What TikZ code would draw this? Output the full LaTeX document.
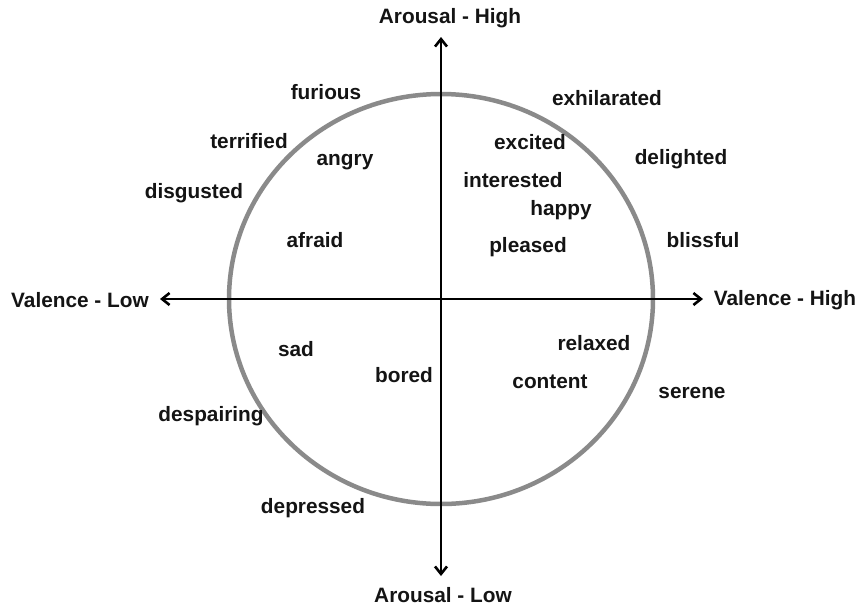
\documentclass[tikz,border=0pt]{standalone}
\usepackage{fontspec}
\setmainfont{Liberation Sans}
\usepackage{xcolor}
\usetikzlibrary{arrows.meta}
\definecolor{ringgray}{HTML}{8A8A8A}

\begin{document}
\begin{tikzpicture}[x=1pt,y=-1pt,
  mood/.style={font=\fontsize{20.8}{24}\selectfont\bfseries, text=black!92, inner sep=0pt},
  axlabel/.style={mood},
  axe/.style={{Straight Barb[length=7.5pt,width=12pt,line width=2.6pt]}-{Straight Barb[length=7.5pt,width=12pt,line width=2.6pt]}, line width=2.8pt, black},
  ring/.style={draw=ringgray, line width=4.5pt}]
  \useasboundingbox (0,0) rectangle (857,606);
  % circle
  \draw[ring] (441,299) ellipse [x radius=212, y radius=205];
  % axis ends
  \coordinate (vlo) at (160,299);
  \coordinate (vhi) at (703,299);
  \coordinate (ahi) at (441,37);
  \coordinate (alo) at (441,576);
  \draw[axe] (vlo) -- (vhi);
  \draw[axe] (ahi) -- (alo);
  % axis labels
  \node[axlabel] (arhigh) at (450,18)  {Arousal - High};
  \node[axlabel] (arlow)  at (443,595) {Arousal - Low};
  \node[axlabel] (valow)  at (80,300)  {Valence - Low};
  \node[axlabel] (vahigh) at (785,300) {Valence - High};
  % emotions
  \node[mood] (furious)     at (326,92)  {furious};
  \node[mood] (exhilarated) at (607,98)  {exhilarated};
  \node[mood] (terrified)   at (249,141) {terrified};
  \node[mood] (angry)       at (345,162) {angry};
  \node[mood] (excited)     at (530,142) {excited};
  \node[mood] (delighted)   at (681,159) {delighted};
  \node[mood] (disgusted)   at (194,193) {disgusted};
  \node[mood] (interested)  at (513,180) {interested};
  \node[mood] (happy)       at (561,210) {happy};
  \node[mood] (afraid)      at (315,240) {afraid};
  \node[mood] (pleased)     at (528,247) {pleased};
  \node[mood] (blissful)    at (703,240) {blissful};
  \node[mood] (sad)         at (296,349) {sad};
  \node[mood] (relaxed)     at (594,343) {relaxed};
  \node[mood] (bored)       at (404,375) {bored};
  \node[mood] (content)     at (550,382) {content};
  \node[mood] (serene)      at (692,393) {serene};
  \node[mood] (despairing)  at (211,416) {despairing};
  \node[mood] (depressed)   at (313,508) {depressed};
\end{tikzpicture}
\end{document}
